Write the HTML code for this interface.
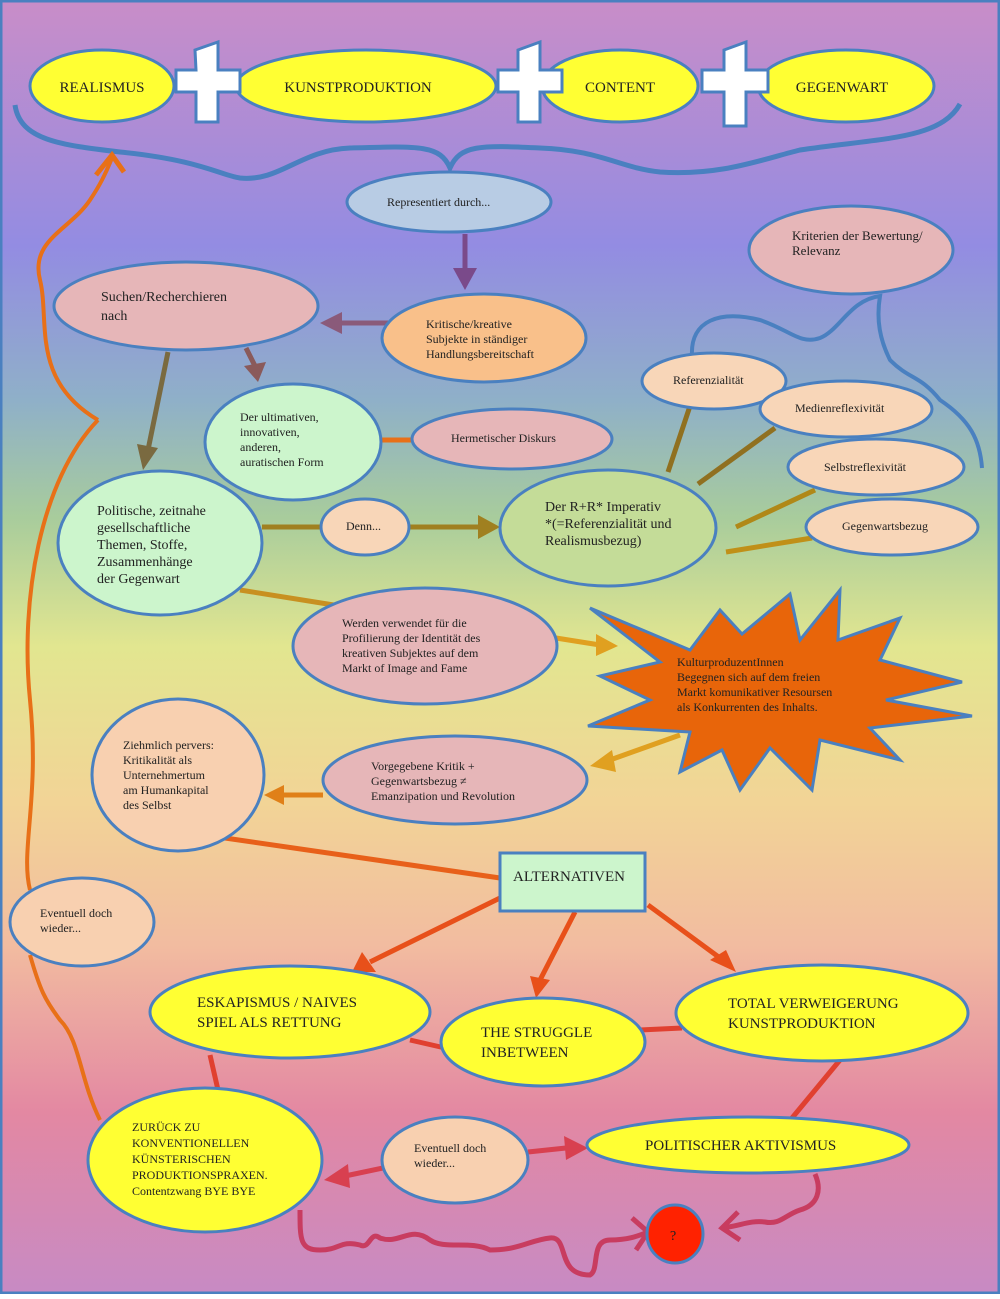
<!DOCTYPE html>
<html><head><meta charset="utf-8"><style>
html,body{margin:0;padding:0;}
body{width:1000px;height:1294px;overflow:hidden;}
svg text{font-family:"Liberation Serif",serif;fill:#222;}
</style></head><body>
<svg width="1000" height="1294" viewBox="0 0 1000 1294" xmlns="http://www.w3.org/2000/svg">
<defs>
<linearGradient id="bg" x1="0" y1="0" x2="0" y2="1">
<stop offset="0" stop-color="#c98dc8"/>
<stop offset="0.19" stop-color="#938ce2"/>
<stop offset="0.31" stop-color="#8fb0c8"/>
<stop offset="0.40" stop-color="#a8cc9c"/>
<stop offset="0.50" stop-color="#e2e690"/>
<stop offset="0.62" stop-color="#f2d496"/>
<stop offset="0.73" stop-color="#f2bca0"/>
<stop offset="0.86" stop-color="#e388a2"/>
<stop offset="1" stop-color="#c78ac4"/>
</linearGradient>
</defs>
<rect x="0" y="0" width="1000" height="1294" fill="url(#bg)"/>
<rect x="1" y="1" width="998" height="1292" fill="none" stroke="#4a80c0" stroke-width="3"/>

<!-- top brace -->
<path d="M15,105 C20,140 60,145 120,152 C200,160 220,175 240,178 C280,182 300,150 350,148 C420,146 440,145 450,168 C460,145 480,145 540,148 C600,150 620,168 660,172 C720,176 760,160 800,150 C880,138 940,140 960,104" fill="none" stroke="#4a80c0" stroke-width="5"/>

<!-- top ellipses -->
<g stroke="#4a80c0" stroke-width="3" fill="#ffff33">
<ellipse cx="102" cy="86" rx="72" ry="36"/>
<ellipse cx="366" cy="86" rx="130" ry="36"/>
<ellipse cx="620" cy="86" rx="78" ry="36"/>
<ellipse cx="846" cy="86" rx="88" ry="36"/>
</g>
<!-- plus signs -->
<g fill="#fff" stroke="#4a80c0" stroke-width="3">
<path d="M195,50 L218,42 L218,70 L240,70 L240,92 L218,92 L218,122 L196,122 L196,92 L176,92 L176,70 L196,70 Z"/>
<path d="M518,50 L540,42 L540,70 L562,70 L562,92 L540,92 L540,122 L518,122 L518,92 L498,92 L498,70 L518,70 Z"/>
<path d="M724,50 L746,42 L746,70 L768,70 L768,92 L746,92 L746,126 L724,126 L724,92 L702,92 L702,70 L724,70 Z"/>
</g>
<g font-size="15" text-anchor="middle">
<text x="102" y="92">REALISMUS</text>
<text x="358" y="92">KUNSTPRODUKTION</text>
<text x="620" y="92">CONTENT</text>
<text x="842" y="92">GEGENWART</text>
</g>

<!-- orange long arrow left -->
<path d="M98,420 C30,380 50,320 40,280 C30,240 70,230 90,200 C100,185 105,175 112,158" fill="none" stroke="#e87018" stroke-width="4"/>
<path d="M98,420 C40,480 20,600 30,700 C40,800 20,850 30,890" fill="none" stroke="#e87018" stroke-width="4"/>
<path d="M30,955 C40,990 45,1000 60,1020 C80,1040 80,1080 100,1120" fill="none" stroke="#e87018" stroke-width="4"/>
<path d="M96,175 L112,155 L124,172" fill="none" stroke="#e87018" stroke-width="5"/>

<!-- connectors -->
<g stroke-width="5" fill="none">
<line x1="465" y1="234" x2="465" y2="272" stroke="#7a4a8a"/>
<line x1="388" y1="323" x2="338" y2="323" stroke="#8a5a7a"/>
<line x1="246" y1="348" x2="256" y2="368" stroke="#8a5a5a"/>
<line x1="168" y1="352" x2="148" y2="450" stroke="#7a6a40"/>
<line x1="380" y1="440" x2="412" y2="440" stroke="#e87018"/>
<line x1="262" y1="527" x2="322" y2="527" stroke="#a08020"/>
<line x1="410" y1="527" x2="480" y2="527" stroke="#a08020"/>
<line x1="240" y1="590" x2="340" y2="606" stroke="#c89020"/>
<line x1="556" y1="638" x2="600" y2="645" stroke="#e0a020"/>
<line x1="668" y1="472" x2="690" y2="406" stroke="#907020"/>
<line x1="698" y1="484" x2="775" y2="428" stroke="#907020"/>
<line x1="736" y1="527" x2="815" y2="490" stroke="#b08818"/>
<line x1="726" y1="552" x2="812" y2="538" stroke="#c09018"/>
<line x1="680" y1="735" x2="610" y2="760" stroke="#e0a020"/>
<line x1="323" y1="795" x2="282" y2="795" stroke="#e08018"/>
<line x1="225" y1="838" x2="500" y2="878" stroke="#e8601a"/>
<line x1="500" y1="898" x2="370" y2="962" stroke="#e8501a"/>
<line x1="575" y1="912" x2="540" y2="980" stroke="#e8501a"/>
<line x1="648" y1="905" x2="720" y2="958" stroke="#e8501a"/>
<line x1="410" y1="1040" x2="445" y2="1048" stroke="#e04030"/>
<line x1="640" y1="1030" x2="682" y2="1028" stroke="#e04030"/>
<line x1="210" y1="1055" x2="218" y2="1090" stroke="#e04030"/>
<line x1="840" y1="1060" x2="792" y2="1118" stroke="#e04030"/>
<line x1="383" y1="1168" x2="345" y2="1176" stroke="#d84050"/>
<line x1="528" y1="1152" x2="566" y2="1148" stroke="#d84050"/>
</g>
<!-- arrowheads -->
<g>
<polygon points="453,268 477,268 465,290" fill="#7a4a8a"/>
<polygon points="342,312 342,334 320,323" fill="#8a5a7a"/>
<polygon points="244,366 266,362 258,382" fill="#8a5a5a"/>
<polygon points="137,444 158,448 143,470" fill="#7a6a40"/>
<polygon points="478,515 478,539 500,527" fill="#a08020"/>
<polygon points="596,634 596,656 618,646" fill="#e0a020"/>
<polygon points="612,750 616,772 590,766" fill="#e0a020"/>
<polygon points="284,785 284,805 264,795" fill="#e08018"/>
<polygon points="362,952 376,972 352,972" fill="#e8501a"/>
<polygon points="530,976 550,980 536,998" fill="#e8501a"/>
<polygon points="710,960 726,950 736,972" fill="#e8501a"/>
<polygon points="348,1164 350,1188 324,1180" fill="#d84050"/>
<polygon points="564,1136 566,1160 588,1148" fill="#d84050"/>
</g>

<!-- blue criterion line -->
<path d="M692,356 C690,320 720,310 760,320 C790,330 800,345 820,338 C840,330 850,300 880,296 C876,320 880,340 890,360 C910,380 920,375 940,400 C970,420 980,440 982,468" fill="none" stroke="#4a80c0" stroke-width="4"/>

<!-- squiggle bottom -->
<path d="M300,1210 C300,1240 300,1250 320,1250 C340,1250 340,1240 360,1245 C370,1250 370,1230 380,1238 C400,1245 410,1225 430,1240 C445,1250 470,1240 490,1250 C520,1250 530,1240 550,1238 C570,1236 555,1275 590,1275 C600,1270 590,1240 610,1240 C630,1240 640,1235 648,1232" fill="none" stroke="#c83c60" stroke-width="5"/>
<path d="M632,1218 L648,1232 L636,1250" fill="none" stroke="#c83c60" stroke-width="5"/>
<path d="M815,1174 C822,1190 818,1205 800,1210 C785,1215 780,1225 765,1222 C750,1220 740,1226 722,1228" fill="none" stroke="#c83c60" stroke-width="5"/>
<path d="M738,1212 L722,1228 L740,1240" fill="none" stroke="#c83c60" stroke-width="5"/>

<!-- starburst -->
<polygon points="590,608 690,650 720,610 742,634 790,594 800,640 840,590 838,640 900,618 880,660 962,682 886,700 972,716 870,728 900,760 820,740 812,790 770,748 740,790 722,750 680,772 690,732 588,726 650,700 600,676 660,662" fill="#e8650a" stroke="#4a80c0" stroke-width="3"/>

<!-- nodes -->
<g stroke="#4a80c0" stroke-width="3">
<ellipse cx="449" cy="202" rx="102" ry="30" fill="#b8cce4"/>
<ellipse cx="484" cy="338" rx="102" ry="44" fill="#f9c08a"/>
<ellipse cx="186" cy="306" rx="132" ry="44" fill="#e6b6b8"/>
<ellipse cx="851" cy="250" rx="102" ry="44" fill="#e6b6b8"/>
<ellipse cx="714" cy="381" rx="72" ry="28" fill="#f8d6b8"/>
<ellipse cx="846" cy="409" rx="86" ry="28" fill="#f8d6b8"/>
<ellipse cx="876" cy="467" rx="88" ry="28" fill="#f8d6b8"/>
<ellipse cx="892" cy="527" rx="86" ry="28" fill="#f8d6b8"/>
<ellipse cx="293" cy="442" rx="88" ry="58" fill="#ccf5cc"/>
<ellipse cx="512" cy="439" rx="100" ry="30" fill="#e6b6b8"/>
<ellipse cx="160" cy="543" rx="102" ry="72" fill="#ccf5cc"/>
<ellipse cx="365" cy="527" rx="44" ry="28" fill="#f8d6b8"/>
<ellipse cx="608" cy="528" rx="108" ry="58" fill="#c4dc98"/>
<ellipse cx="425" cy="646" rx="132" ry="58" fill="#e6b6b8"/>
<ellipse cx="178" cy="775" rx="86" ry="76" fill="#f8d0b0"/>
<ellipse cx="455" cy="780" rx="132" ry="44" fill="#e6b6b8"/>
<rect x="500" y="853" width="145" height="58" fill="#ccf5cc"/>
<ellipse cx="82" cy="922" rx="72" ry="44" fill="#f8d0b0"/>
<ellipse cx="290" cy="1012" rx="140" ry="46" fill="#ffff33"/>
<ellipse cx="543" cy="1042" rx="102" ry="44" fill="#ffff33"/>
<ellipse cx="822" cy="1013" rx="146" ry="48" fill="#ffff33"/>
<ellipse cx="205" cy="1160" rx="117" ry="72" fill="#ffff33"/>
<ellipse cx="455" cy="1160" rx="73" ry="43" fill="#f8d0b0"/>
<ellipse cx="748" cy="1145" rx="161" ry="28" fill="#ffff33"/>
<ellipse cx="675" cy="1234" rx="28" ry="29" fill="#ff2200"/>
</g>

<!-- texts -->
<g font-size="12">
<text x="387" y="206">Representiert durch...</text>
<text x="426" y="328">Kritische/kreative</text>
<text x="426" y="343">Subjekte in ständiger</text>
<text x="426" y="358">Handlungsbereitschaft</text>
<text x="792" y="240" font-size="13">Kriterien der Bewertung/</text>
<text x="792" y="255" font-size="13">Relevanz</text>
<text x="673" y="384">Referenzialität</text>
<text x="795" y="412">Medienreflexivität</text>
<text x="824" y="471">Selbstreflexivität</text>
<text x="842" y="530">Gegenwartsbezug</text>
<text x="240" y="421">Der ultimativen,</text>
<text x="240" y="436">innovativen,</text>
<text x="240" y="451">anderen,</text>
<text x="240" y="466">auratischen Form</text>
<text x="451" y="442">Hermetischer Diskurs</text>
<text x="346" y="530">Denn...</text>
<text x="342" y="627">Werden  verwendet für die</text>
<text x="342" y="642">Profilierung der Identität des</text>
<text x="342" y="657">kreativen Subjektes auf dem</text>
<text x="342" y="672">Markt of Image and Fame</text>
<text x="677" y="666">KulturproduzentInnen</text>
<text x="677" y="681">Begegnen sich auf dem freien</text>
<text x="677" y="696">Markt komunikativer Resoursen</text>
<text x="677" y="711">als Konkurrenten des Inhalts.</text>
<text x="123" y="749">Ziehmlich pervers:</text>
<text x="123" y="764">Kritikalität als</text>
<text x="123" y="779">Unternehmertum</text>
<text x="123" y="794">am Humankapital</text>
<text x="123" y="809">des Selbst</text>
<text x="371" y="770">Vorgegebene Kritik +</text>
<text x="371" y="785">Gegenwartsbezug ≠</text>
<text x="371" y="800">Emanzipation und Revolution</text>
<text x="40" y="917">Eventuell doch</text>
<text x="40" y="932">wieder...</text>
<text x="414" y="1152">Eventuell doch</text>
<text x="414" y="1167">wieder...</text>
</g>
<g font-size="14">
<text x="101" y="301">Suchen/Recherchieren</text>
<text x="101" y="320">nach</text>
<text x="97" y="515">Politische, zeitnahe</text>
<text x="97" y="532">gesellschaftliche</text>
<text x="97" y="549">Themen, Stoffe,</text>
<text x="97" y="566">Zusammenhänge</text>
<text x="97" y="583">der Gegenwart</text>
<text x="545" y="511">Der R+R* Imperativ</text>
<text x="545" y="528">*(=Referenzialität und</text>
<text x="545" y="545">Realismusbezug)</text>
<text x="513" y="881" font-size="15">ALTERNATIVEN</text>
<text x="197" y="1007" font-size="15">ESKAPISMUS / NAIVES</text>
<text x="197" y="1027" font-size="15">SPIEL ALS RETTUNG</text>
<text x="481" y="1037" font-size="15">THE STRUGGLE</text>
<text x="481" y="1057" font-size="15">INBETWEEN</text>
<text x="728" y="1008" font-size="15">TOTAL VERWEIGERUNG</text>
<text x="728" y="1028" font-size="15">KUNSTPRODUKTION</text>
<text x="645" y="1150" font-size="15">POLITISCHER AKTIVISMUS</text>
<text x="670" y="1240">?</text>
</g>
<g font-size="12">
<text x="132" y="1131">ZURÜCK ZU</text>
<text x="132" y="1147">KONVENTIONELLEN</text>
<text x="132" y="1163">KÜNSTERISCHEN</text>
<text x="132" y="1179">PRODUKTIONSPRAXEN.</text>
<text x="132" y="1195">Contentzwang BYE BYE</text>
</g>
</svg>
</body></html>
